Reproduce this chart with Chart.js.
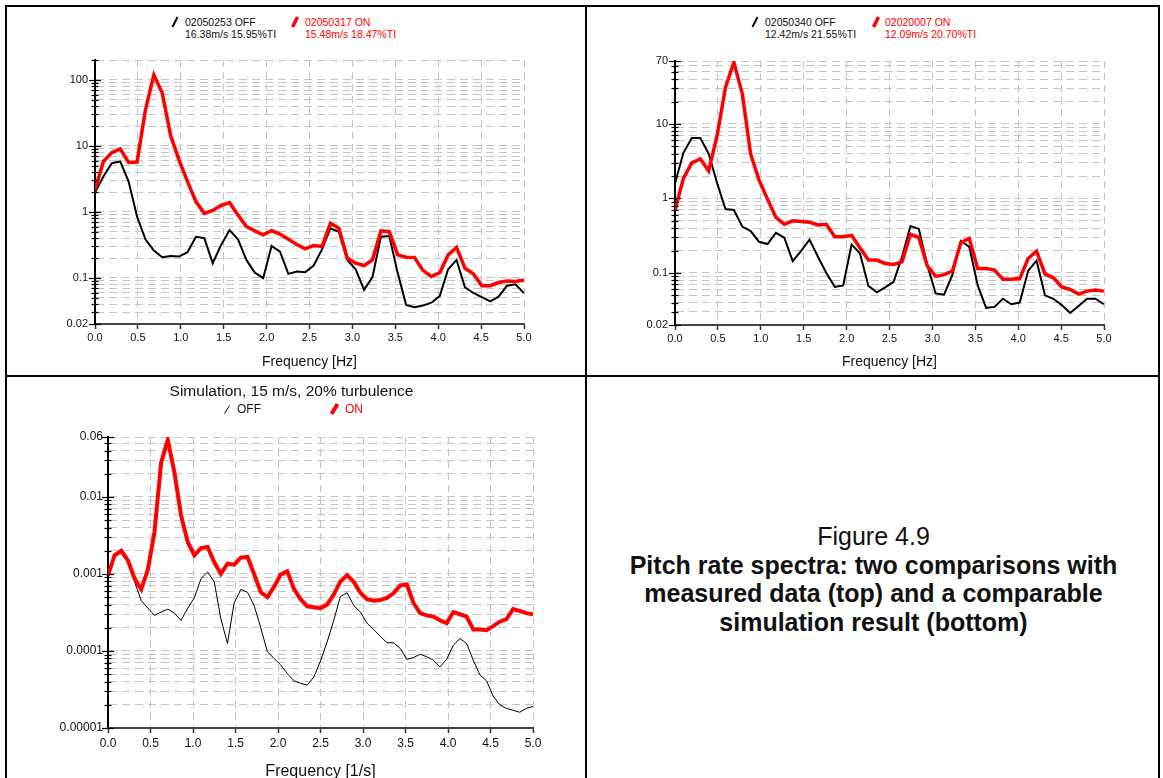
<!DOCTYPE html>
<html>
<head>
<meta charset="utf-8">
<title>Pitch rate spectra</title>
<script src="https://cdn.jsdelivr.net/npm/chart.js@4.4.1/dist/chart.umd.min.js"></script>
<style>
    html, body {
        margin: 0;
        padding: 0;
        background: #fff;
        width: 1163px;
        height: 778px;
        overflow: hidden;
        font-family: 'Liberation Sans', Arial, sans-serif;
        color: #111;
    }
    canvas { position: absolute; }
    .rule { position: absolute; background: #000; }
    .txt { position: absolute; white-space: nowrap; }
    .legend { font-size: 10.5px; line-height: 12px; }
    .red { color: #ff0000; }
    svg { position: absolute; overflow: visible; }
    #caption {
        position: absolute;
        left: 587px;
        width: 573px;
        top: 522px;
        text-align: center;
        font-size: 25px;
        line-height: 28.5px;
        white-space: nowrap;
    }
    #caption b { font-weight: bold; }
</style>
</head>
<body>

<!-- frame around the four cells -->
<div class="rule" style="left:5px; top:5px; width:1155px; height:2px;"></div>
<div class="rule" style="left:5px; top:5px; width:2px; height:780px;"></div>
<div class="rule" style="left:1158px; top:5px; width:2px; height:780px;"></div>
<div class="rule" style="left:585px; top:5px; width:2px; height:780px;"></div>
<div class="rule" style="left:5px; top:375px; width:1155px; height:2px;"></div>

<canvas id="chartTopLeft" width="570" height="330" style="left:8px; top:45px;"></canvas>
<canvas id="chartTopRight" width="570" height="330" style="left:588px; top:45px;"></canvas>
<canvas id="chartSim" width="570" height="399" style="left:8px; top:379px;"></canvas>

<!-- legend, top left -->
<svg style="left:171px; top:16px;" width="8" height="12"><line x1="1.5" y1="11" x2="6.5" y2="1" stroke="#000" stroke-width="2"/></svg>
<div class="txt legend" style="left:185px; top:16px;">02050253 OFF<br>16.38m/s 15.95%TI</div>
<svg style="left:291px; top:16px;" width="8" height="12"><line x1="1.5" y1="11" x2="6.5" y2="1" stroke="#ff0000" stroke-width="3.5"/></svg>
<div class="txt legend red" style="left:305px; top:16px;">02050317 ON<br>15.48m/s 18.47%TI</div>

<!-- legend, top right -->
<svg style="left:751px; top:16px;" width="8" height="12"><line x1="1.5" y1="11" x2="6.5" y2="1" stroke="#000" stroke-width="2"/></svg>
<div class="txt legend" style="left:765px; top:16px;">02050340 OFF<br>12.42m/s 21.55%TI</div>
<svg style="left:872px; top:16px;" width="8" height="12"><line x1="1.5" y1="11" x2="6.5" y2="1" stroke="#ff0000" stroke-width="3.5"/></svg>
<div class="txt legend red" style="left:885px; top:16px;">02020007 ON<br>12.09m/s 20.70%TI</div>

<!-- title and legend, simulation -->
<div class="txt" style="left:291.5px; top:381px; transform:translateX(-50%); font-size:15.5px; line-height:19px;">Simulation, 15 m/s, 20% turbulence</div>
<svg style="left:223px; top:404px;" width="8" height="10"><line x1="1.5" y1="9.5" x2="6.5" y2="1.5" stroke="#000" stroke-width="1"/></svg>
<div class="txt" style="left:237px; top:402px; font-size:12px; line-height:14px;">OFF</div>
<svg style="left:330px; top:403px;" width="9" height="12"><line x1="1.5" y1="11" x2="7.5" y2="1" stroke="#ff0000" stroke-width="4"/></svg>
<div class="txt red" style="left:345px; top:402px; font-size:12px; line-height:14px;">ON</div>

<div id="caption">Figure 4.9<br><b>Pitch rate spectra: two comparisons with<br>measured data (top) and a comparable<br>simulation result (bottom)</b></div>

<script>
// frequency bins of the measured spectra [Hz]
const freqMeasured = [
    0, 0.098, 0.196, 0.294, 0.392, 0.49, 0.588, 0.686, 0.784, 0.882,
    0.98, 1.078, 1.176, 1.274, 1.372, 1.47, 1.568, 1.666, 1.764, 1.862,
    1.96, 2.058, 2.156, 2.254, 2.352, 2.45, 2.548, 2.646, 2.744, 2.842,
    2.94, 3.038, 3.136, 3.234, 3.332, 3.43, 3.528, 3.626, 3.724, 3.822,
    3.92, 4.018, 4.116, 4.214, 4.312, 4.41, 4.508, 4.606, 4.704, 4.802,
    4.9, 4.998
];

// frequency bins of the simulated spectra [1/s]
const freqSim = [
    0, 0.078, 0.156, 0.234, 0.313, 0.391, 0.469, 0.547, 0.625, 0.703,
    0.781, 0.859, 0.938, 1.016, 1.094, 1.172, 1.25, 1.328, 1.406, 1.484,
    1.563, 1.641, 1.719, 1.797, 1.875, 1.953, 2.031, 2.109, 2.188, 2.266,
    2.344, 2.422, 2.5, 2.578, 2.656, 2.734, 2.813, 2.891, 2.969, 3.047,
    3.125, 3.203, 3.281, 3.359, 3.438, 3.516, 3.594, 3.672, 3.75, 3.828,
    3.906, 3.984, 4.063, 4.141, 4.219, 4.297, 4.375, 4.453, 4.531, 4.609,
    4.688, 4.766, 4.844, 4.922, 5.0
];

// run 02050253 (OFF) vs 02050317 (ON)
const offA = [
    1.96, 3.43, 5.47, 5.8, 2.88, 0.85, 0.385, 0.26, 0.205, 0.215,
    0.21, 0.245, 0.42, 0.4, 0.167, 0.316, 0.53, 0.385, 0.187, 0.12,
    0.099, 0.305, 0.25, 0.115, 0.125, 0.122, 0.154, 0.27, 0.565, 0.5,
    0.187, 0.135, 0.066, 0.103, 0.42, 0.43, 0.118, 0.039, 0.036, 0.038,
    0.042, 0.053, 0.135, 0.187, 0.072, 0.059, 0.051, 0.044, 0.052, 0.076,
    0.08, 0.059
];
const onA = [
    2.15, 5.8, 7.9, 9.0, 5.6, 5.7, 35, 118, 63, 14.2,
    6.1, 2.9, 1.43, 0.95, 1.05, 1.25, 1.38, 0.9, 0.6, 0.515,
    0.45, 0.52, 0.46, 0.385, 0.32, 0.275, 0.31, 0.30, 0.67, 0.565,
    0.2, 0.167, 0.154, 0.187, 0.515, 0.5, 0.223, 0.205, 0.204, 0.13,
    0.105, 0.12, 0.223, 0.29, 0.14, 0.115, 0.076, 0.076, 0.085, 0.09,
    0.088, 0.093
];

// run 02050340 (OFF) vs 02020007 (ON)
const offB = [
    1.59, 4.1, 6.5, 6.5, 4.0, 1.62, 0.72, 0.70, 0.42, 0.365,
    0.262, 0.244, 0.346, 0.297, 0.144, 0.198, 0.28, 0.165, 0.1, 0.065,
    0.068, 0.241, 0.183, 0.067, 0.055, 0.064, 0.076, 0.165, 0.425, 0.39,
    0.128, 0.053, 0.051, 0.095, 0.27, 0.224, 0.068, 0.034, 0.035, 0.045,
    0.038, 0.04, 0.107, 0.146, 0.05, 0.045, 0.037, 0.029, 0.036, 0.045,
    0.045, 0.038
];
const onB = [
    0.70, 1.86, 3.01, 3.4, 2.35, 6.9, 30.9, 67, 25.6, 3.93,
    1.76, 0.98, 0.556, 0.45, 0.50, 0.49, 0.48, 0.44, 0.45, 0.306,
    0.306, 0.32, 0.218, 0.149, 0.149, 0.134, 0.13, 0.141, 0.33, 0.30,
    0.124, 0.09, 0.095, 0.106, 0.257, 0.29, 0.115, 0.115, 0.109, 0.082,
    0.082, 0.084, 0.156, 0.196, 0.097, 0.086, 0.065, 0.06, 0.052, 0.057,
    0.059, 0.057
];

// simulation, 15 m/s, 20% turbulence
const offSim = [
    0.00096, 0.00166, 0.0019, 0.0014, 0.00079, 0.00045, 0.00036, 0.00029, 0.00032, 0.00035,
    0.00031, 0.00025, 0.00036, 0.00049, 0.00087, 0.00106, 0.00079, 0.00026, 0.000125, 0.00042,
    0.00063, 0.00058, 0.00039, 0.0002, 0.000098, 0.00008, 0.000066, 0.000051, 0.000041, 0.000038,
    0.000036, 0.000046, 0.000074, 0.000131, 0.00025, 0.00051, 0.00057, 0.00039, 0.00032, 0.00023,
    0.00019, 0.000156, 0.000128, 0.000128, 0.000108, 0.000078, 0.000082, 0.000091, 0.000084, 0.000076,
    0.000062, 0.000078, 0.000119, 0.000145, 0.000125, 0.000076, 0.000049, 0.000041, 0.000026, 0.00002,
    0.000018, 0.000017, 0.000016, 0.000018, 0.000019
];
const onSim = [
    0.00096, 0.00175, 0.002, 0.0015, 0.00087, 0.00063, 0.00114, 0.0035, 0.0278, 0.055,
    0.021, 0.0058, 0.0026, 0.00175, 0.00217, 0.00224, 0.00143, 0.001, 0.00136, 0.00132,
    0.00163, 0.00166, 0.001, 0.00058, 0.0005, 0.00068, 0.00098, 0.00108, 0.00064, 0.00047,
    0.00038, 0.00037, 0.00036, 0.0004, 0.00054, 0.0008, 0.00096, 0.00079, 0.00057, 0.00047,
    0.00045, 0.00046, 0.00049, 0.00056, 0.00071, 0.00073, 0.00042, 0.00031, 0.00029, 0.00028,
    0.00025, 0.00023, 0.00032, 0.0003, 0.00028, 0.00019, 0.00019, 0.000186, 0.00021, 0.00024,
    0.00026, 0.00035, 0.00033, 0.00031, 0.0003
];

// tick labels
const xTickValues = [0, 0.5, 1, 1.5, 2, 2.5, 3, 3.5, 4, 4.5, 5];
const yLabelsA = [0.02, 0.1, 1, 10, 100];
const yLabelsB = [0.02, 0.1, 1, 10, 70];
const yLabelsSim = [0.00001, 0.0001, 0.001, 0.01, 0.06];

Chart.defaults.font.family = "'Liberation Sans', Arial, sans-serif";
Chart.defaults.color = '#111';

const toPoints = (freqs, values) => values.map((v, i) => ({x: freqs[i], y: v}));

// every 1..9 x 10^n between min and max, plus the ends - one grid line each
const logGridTicks = (min, max) => {
    let ticks = [];
    for (let e = Math.floor(Math.log10(min)); e <= Math.ceil(Math.log10(max)); e++) {
        for (let m = 1; m < 10; m++) {
            const v = Number((m * Math.pow(10, e)).toPrecision(3));
            if (v >= min && v <= max) ticks.push(v);
        }
    }
    if (!ticks.includes(min)) ticks.unshift(min);
    if (!ticks.includes(max)) ticks.push(max);
    return ticks.map(v => ({value: v}));
}

// short marks crossing the y axis, longer where there is a label
const yAxisTicks = {
    id: 'yAxisTicks',
    afterDraw(chart, args, opts) {
        const scale = chart.scales.y;
        const ctx = chart.ctx;
        const x = scale.right;
        ctx.save();
        ctx.strokeStyle = '#000';
        ctx.lineWidth = 1.2;
        for (const tick of scale.ticks) {
            const y = Math.round(scale.getPixelForValue(tick.value)) + 0.5;
            const half = opts.labels.includes(tick.value) ? opts.major : opts.minor;
            ctx.beginPath();
            ctx.moveTo(x - half, y);
            ctx.lineTo(x + half, y);
            ctx.stroke();
        }
        ctx.restore();
    }
};

const buildChart = (canvasId, setup) => {
    const ctx = document.getElementById(canvasId);
    return new Chart(ctx, {
        type: 'line',
        data: {
            datasets: [
                {
                    label: 'ON',
                    data: toPoints(setup.freqs, setup.on),
                    borderColor: '#ff0000',
                    borderWidth: setup.onWidth,
                    order: 0
                },
                {
                    label: 'OFF',
                    data: toPoints(setup.freqs, setup.off),
                    borderColor: '#000000',
                    borderWidth: setup.offWidth,
                    order: 1
                }
            ]
        },
        options: {
            responsive: false,
            animation: false,
            devicePixelRatio: 1,
            elements: {
                point: {radius: 0},
                line: {tension: 0, fill: false}
            },
            layout: {padding: setup.padding},
            plugins: {
                legend: {display: false},
                tooltip: {enabled: false},
                yAxisTicks: {labels: setup.yLabels, major: 6, minor: 3.5}
            },
            scales: {
                x: {
                    type: 'linear',
                    min: 0,
                    max: 5,
                    afterBuildTicks: (scale) => {
                        scale.ticks = xTickValues.map(v => ({value: v}));
                    },
                    ticks: {
                        autoSkip: false,
                        maxRotation: 0,
                        padding: setup.xPad,
                        font: {size: setup.tickSize},
                        callback: (v) => v.toFixed(1)
                    },
                    grid: {color: '#c4c4c4', lineWidth: 1, tickLength: 5, tickColor: '#333', tickWidth: 1.5},
                    border: {color: '#444', width: 2, dash: [7, 5]},
                    title: {
                        display: true,
                        text: setup.xTitle,
                        font: {size: setup.titleSize, lineHeight: 1.2},
                        padding: {top: 0, bottom: setup.titlePad}
                    },
                    afterFit: (scale) => { scale.height = setup.xHeight; }
                },
                y: {
                    type: 'logarithmic',
                    min: setup.yMin,
                    max: setup.yMax,
                    afterBuildTicks: (scale) => {
                        scale.ticks = logGridTicks(setup.yMin, setup.yMax);
                    },
                    ticks: {
                        autoSkip: false,
                        padding: setup.yPad,
                        font: {size: setup.tickSize},
                        callback: (v) => setup.yLabels.includes(v) ? String(v) : ''
                    },
                    grid: {color: '#c4c4c4', lineWidth: 1, drawTicks: false},
                    border: {color: '#000', width: 2, dash: [8, 5]},
                    afterFit: (scale) => { scale.width = setup.yWidth; }
                }
            }
        },
        plugins: [yAxisTicks]
    });
}

buildChart('chartTopLeft', {
    freqs: freqMeasured, on: onA, off: offA,
    onWidth: 3.5, offWidth: 2,
    yMin: 0.02, yMax: 200, yLabels: yLabelsA,
    xTitle: 'Frequency [Hz]',
    tickSize: 11, titleSize: 14, titlePad: 4.6,
    xPad: 2, yPad: 7,
    yWidth: 87, xHeight: 51,
    padding: {top: 15, right: 54, left: 0, bottom: 0}
});

buildChart('chartTopRight', {
    freqs: freqMeasured, on: onB, off: offB,
    onWidth: 3.5, offWidth: 2,
    yMin: 0.02, yMax: 70, yLabels: yLabelsB,
    xTitle: 'Frequency [Hz]',
    tickSize: 11, titleSize: 14, titlePad: 4.6,
    xPad: 2, yPad: 7,
    yWidth: 87, xHeight: 50,
    padding: {top: 16, right: 54, left: 0, bottom: 0}
});

buildChart('chartSim', {
    freqs: freqSim, on: onSim, off: offSim,
    onWidth: 4, offWidth: 1,
    yMin: 0.00001, yMax: 0.06, yLabels: yLabelsSim,
    xTitle: 'Frequency [1/s]',
    tickSize: 12, titleSize: 16, titlePad: -3.6,
    xPad: 3, yPad: 5,
    yWidth: 100, xHeight: 50,
    padding: {top: 58, right: 45, left: 0, bottom: 0}
});
</script>
</body>
</html>
